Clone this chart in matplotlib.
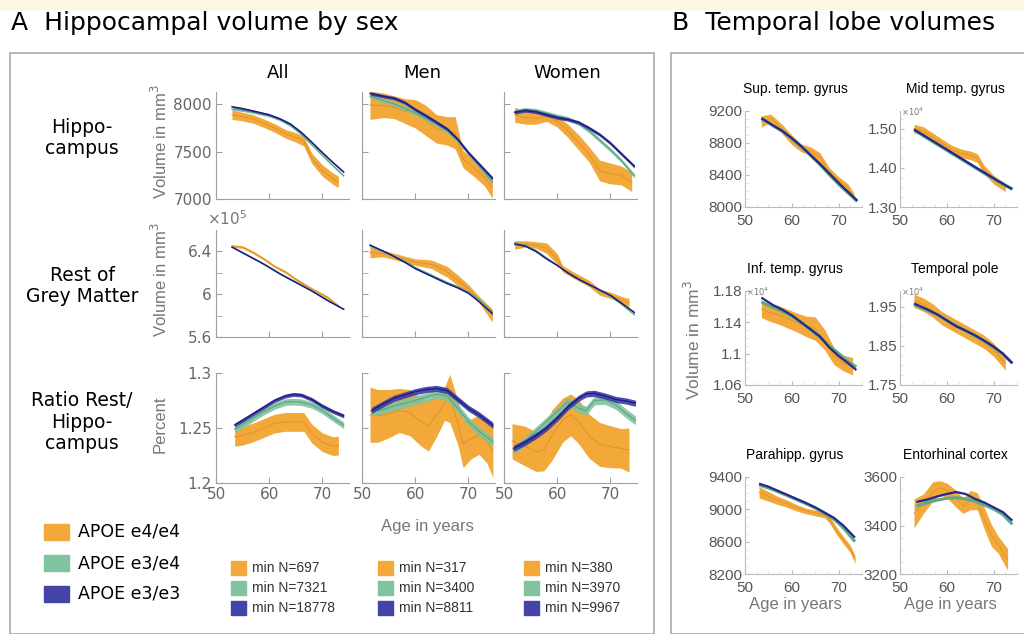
import numpy as np
import matplotlib.pyplot as plt
from matplotlib.patches import Rectangle
from matplotlib.ticker import FixedLocator, FuncFormatter, MultipleLocator

W, H = 1024, 634

# ---------------- data ----------------
# A, row 1: hippocampus volume (mm3)
hip_all_age = [53, 55, 57, 60, 62, 64, 66, 68, 70, 72, 74]
hip_all_e33 = [7975, 7955, 7930, 7890, 7848, 7792, 7705, 7600, 7490, 7385, 7285]
hip_all_e34 = [7950, 7935, 7915, 7880, 7838, 7778, 7685, 7575, 7462, 7352, 7245]
hip_all_e44_age = [53, 55, 57, 59, 61, 63, 65, 66.5, 68, 70, 72, 73]
hip_all_e44 = [7890, 7870, 7845, 7800, 7750, 7690, 7650, 7610, 7430, 7300, 7215, 7180]
hip_all_e44_hw = [50, 45, 45, 45, 45, 45, 50, 50, 55, 60, 60, 60]

hip_men_age = [51.5, 54, 56, 58, 60, 62, 64, 66, 68, 70, 72, 74.5]
hip_men_e33 = [8115, 8085, 8065, 8020, 7945, 7880, 7810, 7740, 7630, 7490, 7370, 7220]
hip_men_e34 = [8085, 8040, 8005, 7960, 7910, 7850, 7790, 7720, 7620, 7480, 7350, 7180]
hip_men_e44_age = [51.5, 54, 56, 58, 60, 62, 64, 66, 67.5, 69, 71, 73, 74.5]
hip_men_e44 = [7990, 7990, 7970, 7930, 7900, 7830, 7740, 7720, 7700, 7420, 7330, 7230, 7120]
hip_men_e44_hw = [150, 130, 120, 130, 150, 160, 150, 150, 170, 90, 90, 90, 110]

hip_wom_age = [52, 54, 56, 58, 60, 62, 64, 66, 68, 70, 72, 74.5]
hip_wom_e33 = [7915, 7935, 7920, 7890, 7860, 7840, 7810, 7750, 7680, 7590, 7480, 7345]
hip_wom_e34 = [7925, 7945, 7935, 7905, 7875, 7850, 7800, 7720, 7620, 7520, 7410, 7245]
hip_wom_e44_age = [52, 54, 56, 58, 60, 62, 64, 66, 68, 70, 72, 74]
hip_wom_e44 = [7890, 7860, 7850, 7870, 7820, 7720, 7600, 7470, 7300, 7270, 7250, 7180]
hip_wom_e44_hw = [80, 70, 60, 50, 60, 70, 80, 80, 110, 110, 100, 100]

# A, row 2: rest of grey matter (x 1e5 mm3)
gm_all_age = [53, 56, 59, 62, 65, 68, 71, 74]
gm_all_e33 = [6.44, 6.36, 6.28, 6.19, 6.11, 6.03, 5.94, 5.86]
gm_all_e34 = [6.445, 6.365, 6.285, 6.195, 6.115, 6.035, 5.945, 5.86]
gm_all_e44_age = [53, 55, 57, 59, 61, 63, 65, 68, 71, 73]
gm_all_e44 = [6.45, 6.44, 6.39, 6.33, 6.26, 6.21, 6.14, 6.05, 5.97, 5.89]
gm_all_e44_hw = [0.012] * 10

gm_men_age = [51.5, 55, 58, 60, 63, 66, 68, 70, 72, 74.5]
gm_men_e33 = [6.46, 6.38, 6.30, 6.24, 6.17, 6.10, 6.06, 6.01, 5.93, 5.82]
gm_men_e34 = [6.45, 6.38, 6.31, 6.25, 6.18, 6.11, 6.07, 6.02, 5.95, 5.84]
gm_men_e44_age = [51.5, 54, 57, 60, 63, 66, 68, 70, 72, 74.5]
gm_men_e44 = [6.39, 6.38, 6.34, 6.30, 6.28, 6.21, 6.13, 6.05, 5.95, 5.80]
gm_men_e44_hw = [0.05, 0.03, 0.03, 0.03, 0.04, 0.05, 0.05, 0.04, 0.03, 0.06]

gm_wom_age = [52, 54, 56, 58, 60, 62, 64, 66, 68, 70, 72, 74.5]
gm_wom_e33 = [6.47, 6.45, 6.40, 6.33, 6.27, 6.20, 6.14, 6.09, 6.04, 5.99, 5.92, 5.83]
gm_wom_e34 = [6.48, 6.46, 6.41, 6.34, 6.27, 6.20, 6.14, 6.09, 6.04, 5.98, 5.91, 5.81]
gm_wom_e44_age = [52, 54, 56, 58, 60, 61, 63, 66, 68, 70, 72, 73.5]
gm_wom_e44 = [6.46, 6.47, 6.46, 6.43, 6.33, 6.24, 6.18, 6.10, 6.02, 5.99, 5.95, 5.92]
gm_wom_e44_hw = [0.04, 0.03, 0.03, 0.05, 0.05, 0.03, 0.03, 0.03, 0.03, 0.03, 0.03, 0.04]

# A, row 3: ratio rest / hippocampus (percent)
rat_all_age = [53.5, 55, 57, 59, 61, 63, 64.5, 66, 68, 70, 72, 74]
rat_all_e33 = [1.2527, 1.257, 1.263, 1.269, 1.275, 1.279, 1.2805, 1.280, 1.276, 1.270, 1.265, 1.261]
rat_all_e34 = [1.249, 1.253, 1.259, 1.265, 1.270, 1.2735, 1.274, 1.2735, 1.271, 1.266, 1.259, 1.2525]
rat_all_e44_age = [53.5, 55, 57, 59, 61, 63, 65, 66.5, 68, 70, 72, 73]
rat_all_e44 = [1.242, 1.243, 1.246, 1.250, 1.254, 1.2555, 1.2555, 1.2555, 1.245, 1.237, 1.2335, 1.234]
rat_all_e44_hw = [0.0085] * 12

rat_men_age = [51.8, 54, 56, 58, 60, 62, 64, 66, 68, 70, 72, 74.6]
rat_men_e33 = [1.266, 1.272, 1.277, 1.280, 1.283, 1.285, 1.286, 1.284, 1.276, 1.268, 1.262, 1.2525]
rat_men_e34 = [1.265, 1.267, 1.270, 1.2725, 1.275, 1.278, 1.281, 1.279, 1.268, 1.256, 1.247, 1.2375]
rat_men_e44_age = [51.5, 53, 55, 57, 59, 61, 62.5, 64, 65.5, 66.5, 68, 69, 70.5, 72, 73.5, 74.6]
rat_men_e44 = [1.262, 1.261, 1.263, 1.266, 1.264, 1.256, 1.252, 1.262, 1.272, 1.277,
               1.255, 1.236, 1.240, 1.244, 1.238, 1.229]
rat_men_e44_hw = [0.025, 0.024, 0.022, 0.020, 0.021, 0.022, 0.023, 0.020, 0.015, 0.022,
                  0.020, 0.022, 0.018, 0.018, 0.020, 0.024]

rat_wom_age = [51.8, 54, 56, 58, 60, 62, 64, 65.5, 67, 69, 71, 73, 74.7]
rat_wom_e33 = [1.2315, 1.237, 1.243, 1.250, 1.259, 1.269, 1.277, 1.281, 1.2815, 1.279, 1.276, 1.2745, 1.2725]
rat_wom_e34 = [1.230, 1.238, 1.247, 1.256, 1.265, 1.274, 1.268, 1.266, 1.275, 1.2755, 1.271, 1.263, 1.257]
rat_wom_e44_age = [51.5, 54, 56, 57.5, 59, 61, 62.5, 64, 66, 68, 70, 72, 73.5]
rat_wom_e44 = [1.238, 1.2335, 1.2285, 1.230, 1.2435, 1.257, 1.262, 1.256, 1.2425, 1.235, 1.233, 1.2315, 1.230]
rat_wom_e44_hw = [0.016, 0.018, 0.018, 0.019, 0.023, 0.020, 0.019, 0.020, 0.020, 0.020, 0.019, 0.018, 0.020]

# B: temporal lobe volumes (mm3)
sup_age = [53.5, 56, 58, 60, 62, 64, 66, 68, 70, 72, 74]
sup_e33 = [9110, 9020, 8950, 8860, 8760, 8650, 8540, 8420, 8300, 8190, 8080]
sup_e34 = [9105, 9015, 8945, 8855, 8755, 8645, 8530, 8405, 8285, 8175, 8070]
sup_e44_age = [53.5, 55.5, 58, 60, 62, 64, 66, 68, 70, 72, 73.3]
sup_e44 = [9070, 9110, 8970, 8840, 8740, 8700, 8620, 8440, 8330, 8240, 8120]
sup_e44_hw = [70, 50, 60, 60, 50, 50, 60, 50, 50, 50, 50]

mid_age = [53, 56, 59, 62, 65, 68, 71, 74]
mid_e33 = [1.498, 1.476, 1.454, 1.432, 1.410, 1.388, 1.366, 1.346]
mid_e34 = [1.496, 1.474, 1.452, 1.430, 1.408, 1.386, 1.365, 1.345]
mid_e44_age = [53, 55, 57, 59, 61, 63, 65, 66.5, 68, 70, 72.5]
mid_e44 = [1.500, 1.494, 1.478, 1.462, 1.447, 1.437, 1.432, 1.425, 1.395, 1.370, 1.350]
mid_e44_hw = [0.011] * 11

inf_age = [53.5, 56, 58, 60, 62, 64, 66, 68, 70, 72, 73.8]
inf_e33 = [1.1715, 1.162, 1.156, 1.149, 1.140, 1.131, 1.122, 1.108, 1.097, 1.088, 1.079]
inf_e34 = [1.166, 1.159, 1.154, 1.148, 1.140, 1.131, 1.121, 1.110, 1.100, 1.090, 1.083]
inf_e44_age = [53.5, 55, 57, 59, 61, 63, 65, 67, 69, 71, 73]
inf_e44 = [1.157, 1.153, 1.150, 1.145, 1.140, 1.135, 1.132, 1.118, 1.097, 1.088, 1.084]
inf_e44_hw = [0.011, 0.011, 0.012, 0.012, 0.012, 0.013, 0.015, 0.013, 0.011, 0.010, 0.011]

tp_age = [53, 56, 58, 60, 62, 64, 66, 68, 70, 72, 74]
tp_e33 = [1.958, 1.942, 1.930, 1.915, 1.900, 1.889, 1.877, 1.863, 1.848, 1.830, 1.805]
tp_e34 = [1.955, 1.940, 1.929, 1.915, 1.901, 1.889, 1.876, 1.862, 1.847, 1.829, 1.806]
tp_e44_age = [53, 55, 57, 59, 62, 65, 68, 70, 72.5]
tp_e44 = [1.965, 1.955, 1.940, 1.920, 1.900, 1.880, 1.860, 1.840, 1.805]
tp_e44_hw = [0.017] * 9

ph_age = [53, 55, 57, 59, 61, 63, 65, 67, 69, 71, 73.5]
ph_e33 = [9318, 9280, 9230, 9180, 9130, 9080, 9025, 8960, 8895, 8800, 8650]
ph_e34 = [9300, 9265, 9220, 9170, 9120, 9070, 9015, 8950, 8880, 8770, 8600]
ph_e44_age = [53, 55, 57, 59, 61, 63, 65, 67, 68, 69.5, 71, 72.5, 73.5]
ph_e44 = [9210, 9160, 9110, 9070, 9020, 8980, 8955, 8935, 8880, 8740, 8620, 8510, 8380]
ph_e44_hw = [70, 60, 50, 45, 40, 35, 35, 40, 45, 45, 45, 45, 50]

ent_age = [53.5, 56, 58, 60, 62, 64, 66, 68, 70, 72, 74]
ent_e33 = [3497, 3508, 3520, 3530, 3538, 3530, 3510, 3495, 3475, 3455, 3420]
ent_e34 = [3480, 3495, 3505, 3512, 3515, 3510, 3500, 3485, 3468, 3445, 3405]
ent_e44_age = [53, 55, 57, 58.5, 60, 62, 63.5, 65, 66.5, 68, 69.5, 71, 73]
ent_e44 = [3450, 3490, 3540, 3555, 3545, 3510, 3480, 3505, 3500, 3430, 3360, 3320, 3260]
ent_e44_hw = [60, 40, 40, 30, 30, 35, 30, 40, 35, 45, 45, 35, 45]

legend_n = [["697", "7321", "18778"], ["317", "3400", "8811"], ["380", "3970", "9967"]]
genotypes = ["APOE e4/e4", "APOE e3/e4", "APOE e3/e3"]

# ---------------- styling ----------------
ORANGE, ORANGE_D = "#F2A93A", "#E2902E"
GREEN, GREEN_D = "#7FC39F", "#5DAA86"
BLUE, BLUE_D = "#3B3BA5", "#1D1D80"
LEG_COLORS = [ORANGE, GREEN, "#4444A8"]
GREY_TXT = "#666666"
HELV = "Liberation Sans"

fig = plt.figure(figsize=(W / 100, H / 100), dpi=100)


def px_ax(l, t, r, b):
    return fig.add_axes([l / W, 1 - b / H, (r - l) / W, (b - t) / H])


def ftext(x, y, s, **kw):
    return fig.text(x / W, 1 - y / H, s, **kw)


def draw(ax, age, e33, e34, age44, e44, hw44, hw33, hw34):
    m, h = np.array(e44), np.array(hw44)
    ax.fill_between(age44, m - h, m + h, color=ORANGE, lw=0, zorder=1)
    ax.plot(age44, m, color=ORANGE_D, lw=0.7, zorder=2)
    m = np.array(e34)
    ax.fill_between(age, m - hw34, m + hw34, color=GREEN, alpha=0.9, lw=0, zorder=3)
    ax.plot(age, m, color=GREEN_D, lw=0.9, zorder=4)
    m = np.array(e33)
    ax.fill_between(age, m - hw33, m + hw33, color=BLUE, alpha=0.9, lw=0, zorder=5)
    ax.plot(age, m, color=BLUE_D, lw=1.0, zorder=6)


# background strip and panel frames
fig.patches.append(Rectangle((0, 1 - 9 / H), 1, 9 / H, transform=fig.transFigure,
                             color="#FDF6E1", zorder=0))
fig.patches.append(Rectangle((10 / W, 0), 644 / W, 1 - 53 / H, transform=fig.transFigure,
                             fill=False, ec="#AAAAAA", lw=1.2))
fig.patches.append(Rectangle((671 / W, 0), 360 / W, 1 - 53 / H, transform=fig.transFigure,
                             fill=False, ec="#AAAAAA", lw=1.2))

ftext(11, 23, "A  Hippocampal volume by sex", fontsize=18, va="center")
ftext(672, 23, "B  Temporal lobe volumes", fontsize=18, va="center")

# ---------------- panel A ----------------
colsA = [216, 362, 504]
rowsA = [(92, 199), (230, 337), (373, 483)]
rowdata = [
    [(hip_all_age, hip_all_e33, hip_all_e34, hip_all_e44_age, hip_all_e44, hip_all_e44_hw, 10, 12),
     (hip_men_age, hip_men_e33, hip_men_e34, hip_men_e44_age, hip_men_e44, hip_men_e44_hw, 18, 22),
     (hip_wom_age, hip_wom_e33, hip_wom_e34, hip_wom_e44_age, hip_wom_e44, hip_wom_e44_hw, 18, 22)],
    [(gm_all_age, gm_all_e33, gm_all_e34, gm_all_e44_age, gm_all_e44, gm_all_e44_hw, 0.004, 0.005),
     (gm_men_age, gm_men_e33, gm_men_e34, gm_men_e44_age, gm_men_e44, gm_men_e44_hw, 0.006, 0.008),
     (gm_wom_age, gm_wom_e33, gm_wom_e34, gm_wom_e44_age, gm_wom_e44, gm_wom_e44_hw, 0.006, 0.008)],
    [(rat_all_age, rat_all_e33, rat_all_e34, rat_all_e44_age, rat_all_e44, rat_all_e44_hw, 0.0018, 0.003),
     (rat_men_age, rat_men_e33, rat_men_e34, rat_men_e44_age, rat_men_e44, rat_men_e44_hw, 0.0028, 0.004),
     (rat_wom_age, rat_wom_e33, rat_wom_e34, rat_wom_e44_age, rat_wom_e44, rat_wom_e44_hw, 0.0028, 0.004)],
]
ylimsA = [(7000, 8130), (5.6, 6.6), (1.2, 1.3)]
yticksA = [[7000, 7500, 8000], [5.6, 6.0, 6.4], [1.2, 1.25, 1.3]]
yminorA = [[], [5.8, 6.2], []]

for r, (top, bot) in enumerate(rowsA):
    for c, left in enumerate(colsA):
        ax = px_ax(left, top, left + 133, bot)
        draw(ax, *rowdata[r][c])
        ax.set_xlim(50, 75)
        ax.set_ylim(*ylimsA[r])
        for s in ["top", "right"]:
            ax.spines[s].set_visible(False)
        for s in ["left", "bottom"]:
            ax.spines[s].set_color("#A0A0A0")
            ax.spines[s].set_linewidth(0.8)
        ax.set_xticks([50, 60, 70])
        ax.set_yticks(yticksA[r])
        ax.yaxis.set_minor_locator(FixedLocator(yminorA[r]))
        ax.tick_params(which="both", direction="in", length=4, color="#A0A0A0",
                       labelcolor=GREY_TXT, labelsize=11, pad=3)
        ax.yaxis.set_major_formatter(FuncFormatter(lambda v, p: f"{v:g}"))
        if r < 2:
            ax.set_xticklabels([])
        if c > 0:
            ax.set_yticklabels([])

for c, (name, x) in enumerate(zip(["All", "Men", "Women"], [278, 422, 567])):
    ftext(x, 73, name, fontsize=13, ha="center", va="center")

row_labels = ["Hippo-\ncampus", "Rest of\nGrey Matter", "Ratio Rest/\nHippo-\ncampus"]
for lab, y in zip(row_labels, [138, 286, 422]):
    ftext(82, y, lab, fontsize=13.5, ha="center", va="center", linespacing=1.15)

for lab, y in zip(["Volume in mm$^3$", "Volume in mm$^3$", "Percent"], [142, 280, 424]):
    ftext(160, y, lab, fontsize=12, rotation=90, ha="center", va="center",
          color="#777777", family=HELV)
ftext(207, 219, r"$\times10^5$", fontsize=11, color="#777777", va="center")
ftext(427, 527, "Age in years", fontsize=12, color="#777777", ha="center", va="center",
      family=HELV)

# big legend
for i, (g, col) in enumerate(zip(genotypes, LEG_COLORS)):
    y = 532 + i * 31
    fig.patches.append(Rectangle((44 / W, 1 - (y + 8) / H), 25 / W, 16 / H,
                                 transform=fig.transFigure, color=col))
    ftext(78, y, g, fontsize=12.5, va="center")

# small per-column legends
for c, x in enumerate([231, 378, 524]):
    for i, col in enumerate(LEG_COLORS):
        y = 568 + i * 20
        fig.patches.append(Rectangle((x / W, 1 - (y + 7) / H), 15 / W, 14 / H,
                                     transform=fig.transFigure, color=col))
        ftext(x + 21, y, "min N=" + legend_n[c][i], fontsize=10, va="center",
              family=HELV, color="#333333")

# ---------------- panel B ----------------
colsB = [745, 900]
rowsB = [(111, 207), (291, 385), (477, 574)]
specB = [
    ("Sup. temp. gyrus", (sup_age, sup_e33, sup_e34, sup_e44_age, sup_e44, sup_e44_hw),
     (8000, 9200), [8000, 8400, 8800, 9200], 100, "{:.0f}", False),
    ("Mid temp. gyrus", (mid_age, mid_e33, mid_e34, mid_e44_age, mid_e44, mid_e44_hw),
     (1.30, 1.545), [1.30, 1.40, 1.50], 0.025, "{:.2f}", True),
    ("Inf. temp. gyrus", (inf_age, inf_e33, inf_e34, inf_e44_age, inf_e44, inf_e44_hw),
     (1.06, 1.18), [1.06, 1.10, 1.14, 1.18], 0.01, "{:g}", True),
    ("Temporal pole", (tp_age, tp_e33, tp_e34, tp_e44_age, tp_e44, tp_e44_hw),
     (1.75, 1.99), [1.75, 1.85, 1.95], 0.025, "{:.2f}", True),
    ("Parahipp. gyrus", (ph_age, ph_e33, ph_e34, ph_e44_age, ph_e44, ph_e44_hw),
     (8200, 9400), [8200, 8600, 9000, 9400], 100, "{:.0f}", False),
    ("Entorhinal cortex", (ent_age, ent_e33, ent_e34, ent_e44_age, ent_e44, ent_e44_hw),
     (3200, 3600), [3200, 3400, 3600], 50, "{:.0f}", False),
]
for k, (title, data, ylim, yt, ymin, fmt, e4) in enumerate(specB):
    r, c = divmod(k, 2)
    top, bot = rowsB[r]
    left = colsB[c]
    ax = px_ax(left, top, left + 117, bot)
    age, e33, e34, age44, e44, hw44 = data
    m, h = np.array(e44), np.array(hw44)
    ax.fill_between(age44, m - h, m + h, color=ORANGE, lw=0, zorder=1)
    ax.plot(age44, m, color=ORANGE_D, lw=0.6, zorder=2)
    ax.plot(age, e34, color="#5DAA86", lw=2.2, zorder=3, solid_capstyle="butt")
    ax.plot(age, e33, color="#22288C", lw=1.6, zorder=4, solid_capstyle="butt")
    ax.set_xlim(50, 75)
    ax.set_ylim(*ylim)
    for s in ["top", "right"]:
        ax.spines[s].set_visible(False)
    for s in ["left", "bottom"]:
        ax.spines[s].set_color("#BBBBBB")
        ax.spines[s].set_linewidth(0.8)
    ax.set_xticks([50, 60, 70])
    ax.xaxis.set_minor_locator(MultipleLocator(2.5))
    ax.set_yticks(yt)
    ax.yaxis.set_minor_locator(MultipleLocator(ymin))
    ax.yaxis.set_major_formatter(FuncFormatter(lambda v, p, f=fmt: f.format(v)))
    ax.tick_params(which="major", direction="in", length=3, color="#BBBBBB",
                   labelcolor="#555555", labelsize=11)
    ax.tick_params(axis="y", which="major", pad=2)
    ax.tick_params(axis="x", which="major", pad=5)
    ax.tick_params(which="minor", direction="in", length=2, color="#DDDDDD")
    for lab in ax.get_xticklabels() + ax.get_yticklabels():
        lab.set_family(HELV)
    ftext(left + 50 if c == 0 else left + 55, top - 22, title, fontsize=10,
          ha="center", va="center", family=HELV)
    if e4:
        ftext(left + 1, top + 1, r"$\times10^4$", fontsize=6, color="#777777",
              va="center", family=HELV)
    if r == 2:
        ftext(left + 50, 605, "Age in years", fontsize=12, color="#777777",
              ha="center", va="center", family=HELV)

ftext(693, 340, "Volume in mm$^3$", fontsize=12.5, rotation=90, ha="center",
      va="center", color="#777777", family=HELV)

fig.savefig("out.png", dpi=100)
